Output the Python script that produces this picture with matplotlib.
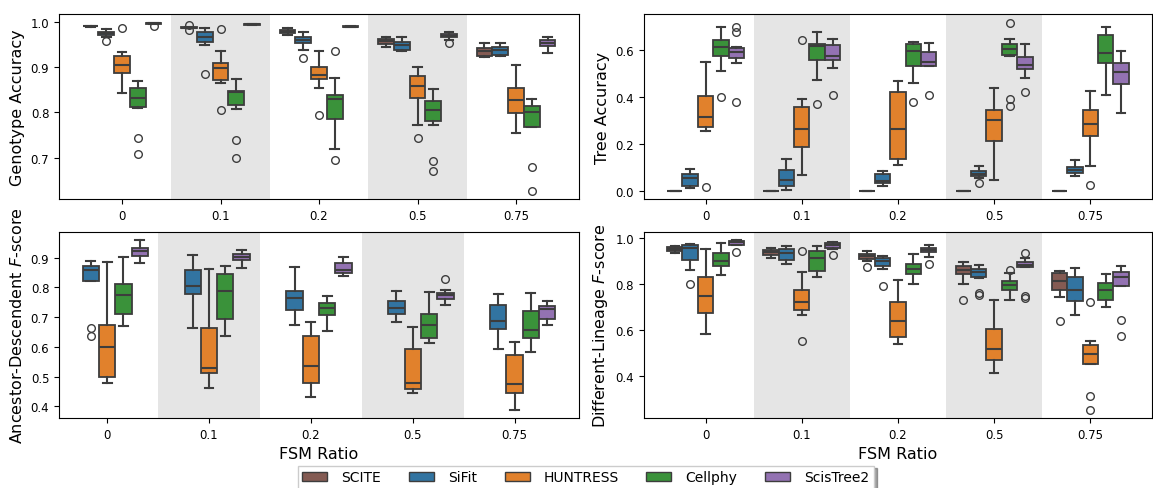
import matplotlib
matplotlib.use("Agg")
import matplotlib.pyplot as plt
from matplotlib.patches import Patch

ratios = ["0", "0.1", "0.2", "0.5", "0.75"]
methods = ["SCITE", "SiFit", "HUNTRESS", "Cellphy", "ScisTree2"]
colors = ["#845b53", "#3274a1", "#e1812c", "#3a923a", "#9372b2"]

# one tuple per FSM ratio: (whisker low, q1, median, q3, whisker high, outliers)
geno_scite = [
    (0.990, 0.991, 0.991, 0.992, 0.992, []),
    (0.986, 0.987, 0.988, 0.989, 0.990, [0.993, 0.982]),
    (0.971, 0.976, 0.979, 0.983, 0.988, []),
    (0.944, 0.952, 0.958, 0.963, 0.966, []),
    (0.922, 0.926, 0.936, 0.943, 0.953, []),
]
geno_sifit = [
    (0.968, 0.972, 0.975, 0.979, 0.985, [0.958]),
    (0.949, 0.955, 0.966, 0.977, 0.987, [0.886]),
    (0.939, 0.954, 0.960, 0.967, 0.977, [0.921]),
    (0.936, 0.939, 0.949, 0.955, 0.966, []),
    (0.925, 0.928, 0.939, 0.946, 0.953, []),
]
geno_huntress = [
    (0.843, 0.887, 0.906, 0.925, 0.933, [0.988]),
    (0.865, 0.871, 0.898, 0.910, 0.935, [0.984, 0.805]),
    (0.854, 0.875, 0.884, 0.900, 0.935, [0.794]),
    (0.773, 0.831, 0.859, 0.880, 0.900, [0.744]),
    (0.754, 0.799, 0.828, 0.855, 0.905, []),
]
geno_cellphy = [
    (0.810, 0.811, 0.832, 0.854, 0.870, [0.744, 0.707]),
    (0.808, 0.816, 0.845, 0.848, 0.873, [0.739, 0.700]),
    (0.718, 0.785, 0.829, 0.838, 0.876, [0.936, 0.694]),
    (0.773, 0.781, 0.806, 0.826, 0.852, [0.692, 0.671]),
    (0.767, 0.767, 0.802, 0.814, 0.829, [0.679, 0.627]),
]
geno_scistree = [
    (0.995, 0.996, 0.997, 0.998, 0.999, [0.992]),
    (0.994, 0.994, 0.995, 0.996, 0.996, []),
    (0.989, 0.989, 0.990, 0.991, 0.991, []),
    (0.961, 0.966, 0.970, 0.974, 0.979, [0.953]),
    (0.931, 0.947, 0.953, 0.960, 0.968, []),
]

tree_scite = [
    (0.0, 0.0, 0.0, 0.0, 0.0, []),
    (0.0, 0.0, 0.0, 0.0, 0.0, []),
    (0.0, 0.0, 0.0, 0.0, 0.0, []),
    (0.0, 0.0, 0.0, 0.0, 0.0, []),
    (0.0, 0.0, 0.0, 0.0, 0.0, []),
]
tree_sifit = [
    (0.010, 0.020, 0.054, 0.072, 0.092, []),
    (0.003, 0.021, 0.045, 0.086, 0.134, []),
    (0.020, 0.034, 0.043, 0.071, 0.083, []),
    (0.052, 0.062, 0.071, 0.082, 0.105, [0.031]),
    (0.062, 0.077, 0.086, 0.102, 0.133, []),
]
tree_huntress = [
    (0.257, 0.272, 0.313, 0.403, 0.552, [0.017]),
    (0.066, 0.188, 0.262, 0.359, 0.394, [0.644]),
    (0.109, 0.136, 0.262, 0.420, 0.471, []),
    (0.044, 0.214, 0.300, 0.345, 0.440, []),
    (0.105, 0.232, 0.283, 0.345, 0.428, [0.024]),
]
tree_cellphy = [
    (0.513, 0.574, 0.615, 0.644, 0.699, [0.401]),
    (0.475, 0.559, 0.618, 0.628, 0.678, [0.369]),
    (0.462, 0.533, 0.598, 0.628, 0.637, [0.381]),
    (0.577, 0.579, 0.607, 0.626, 0.648, [0.719, 0.391, 0.360]),
    (0.411, 0.546, 0.590, 0.664, 0.699, []),
]
tree_scistree = [
    (0.545, 0.569, 0.591, 0.611, 0.615, [0.700, 0.678, 0.380]),
    (0.525, 0.559, 0.574, 0.624, 0.648, [0.411]),
    (0.533, 0.533, 0.552, 0.594, 0.630, [0.411]),
    (0.482, 0.522, 0.537, 0.573, 0.628, [0.423]),
    (0.330, 0.455, 0.509, 0.546, 0.597, []),
]

# SCITE has no ancestor-descendent scores
ad_scite = [None, None, None, None, None]
ad_sifit = [
    (0.821, 0.822, 0.860, 0.873, 0.890, [0.665, 0.635]),
    (0.663, 0.779, 0.806, 0.860, 0.910, []),
    (0.675, 0.725, 0.765, 0.788, 0.870, []),
    (0.684, 0.710, 0.731, 0.753, 0.789, []),
    (0.593, 0.660, 0.688, 0.740, 0.778, []),
]
ad_huntress = [
    (0.478, 0.500, 0.599, 0.674, 0.885, []),
    (0.462, 0.513, 0.529, 0.664, 0.861, []),
    (0.431, 0.480, 0.535, 0.635, 0.684, []),
    (0.444, 0.457, 0.479, 0.592, 0.667, []),
    (0.389, 0.445, 0.474, 0.572, 0.617, []),
]
ad_cellphy = [
    (0.670, 0.712, 0.774, 0.810, 0.902, []),
    (0.637, 0.694, 0.788, 0.846, 0.872, []),
    (0.654, 0.707, 0.730, 0.748, 0.770, []),
    (0.613, 0.631, 0.675, 0.710, 0.785, []),
    (0.583, 0.630, 0.656, 0.720, 0.782, []),
]
ad_scistree = [
    (0.882, 0.907, 0.921, 0.934, 0.958, []),
    (0.867, 0.893, 0.903, 0.913, 0.927, []),
    (0.839, 0.848, 0.858, 0.881, 0.901, []),
    (0.742, 0.761, 0.773, 0.781, 0.792, [0.827]),
    (0.675, 0.693, 0.727, 0.737, 0.753, []),
]

dl_scite = [
    (0.935, 0.941, 0.949, 0.958, 0.964, []),
    (0.913, 0.926, 0.936, 0.946, 0.955, []),
    (0.900, 0.909, 0.919, 0.929, 0.943, [0.874]),
    (0.799, 0.841, 0.859, 0.875, 0.896, [0.728]),
    (0.743, 0.772, 0.812, 0.846, 0.854, [0.638]),
]
dl_sifit = [
    (0.861, 0.903, 0.954, 0.968, 0.974, [0.797]),
    (0.886, 0.904, 0.932, 0.952, 0.964, []),
    (0.865, 0.875, 0.900, 0.910, 0.920, [0.790]),
    (0.823, 0.828, 0.849, 0.862, 0.883, [0.762, 0.752]),
    (0.665, 0.726, 0.774, 0.830, 0.867, []),
]
dl_huntress = [
    (0.583, 0.671, 0.748, 0.829, 0.952, []),
    (0.664, 0.688, 0.722, 0.771, 0.851, [0.941, 0.552]),
    (0.539, 0.571, 0.639, 0.719, 0.816, []),
    (0.413, 0.471, 0.517, 0.603, 0.729, []),
    (0.451, 0.451, 0.497, 0.536, 0.551, [0.722, 0.314, 0.254]),
]
dl_cellphy = [
    (0.838, 0.878, 0.900, 0.932, 0.977, []),
    (0.830, 0.854, 0.910, 0.943, 0.964, []),
    (0.799, 0.841, 0.864, 0.884, 0.930, []),
    (0.729, 0.774, 0.794, 0.810, 0.846, [0.861]),
    (0.701, 0.728, 0.771, 0.803, 0.843, []),
]
dl_scistree = [
    (0.967, 0.970, 0.980, 0.986, 0.988, [0.938]),
    (0.949, 0.954, 0.970, 0.978, 0.983, [0.923]),
    (0.917, 0.936, 0.948, 0.957, 0.970, [0.886]),
    (0.871, 0.871, 0.883, 0.894, 0.913, [0.932, 0.748, 0.738]),
    (0.790, 0.790, 0.829, 0.849, 0.878, [0.643, 0.575]),
]

GRAY = "#3d3d3d"
SHADE = "#e5e5e5"
BOX_W = 0.16


def draw_panel(ax, series, ylabel, xlabel=None):
    # grey bands behind every other ratio
    for i in range(1, len(ratios), 2):
        ax.axvspan(i - 0.5, i + 0.5, color=SHADE, zorder=0, lw=0)
    for j, (boxes, col) in enumerate(zip(series, colors)):
        stats = []
        pos = []
        for i, b in enumerate(boxes):
            if b is None:
                continue
            stats.append(dict(whislo=b[0], q1=b[1], med=b[2], q3=b[3],
                              whishi=b[4], fliers=b[5]))
            pos.append(i + (j - 2) * BOX_W)
        if not stats:
            continue
        ax.bxp(stats, positions=pos, widths=BOX_W, capwidths=BOX_W * 0.55,
               patch_artist=True, manage_ticks=False,
               boxprops=dict(facecolor=col, edgecolor=GRAY, linewidth=1.3),
               whiskerprops=dict(color=GRAY, linewidth=1.5),
               capprops=dict(color=GRAY, linewidth=1.5),
               medianprops=dict(color=GRAY, linewidth=1.5),
               flierprops=dict(marker="o", markerfacecolor="none",
                               markeredgecolor=GRAY, markersize=5.5,
                               markeredgewidth=1.0))
    ax.set_xticks(range(len(ratios)))
    ax.set_xticklabels(ratios)
    ax.tick_params(labelsize=8.5)
    ax.set_ylabel(ylabel, fontsize=11.5)
    if xlabel:
        ax.set_xlabel(xlabel, fontsize=11.5)


fig = plt.figure(figsize=(11.53, 4.89), dpi=100)
ax1 = fig.add_axes([0.0512, 0.591, 0.451, 0.378])
ax2 = fig.add_axes([0.5585, 0.591, 0.4406, 0.378])
ax3 = fig.add_axes([0.0512, 0.1431, 0.451, 0.3804])
ax4 = fig.add_axes([0.5585, 0.1431, 0.4406, 0.3804])

draw_panel(ax1, [geno_scite, geno_sifit, geno_huntress, geno_cellphy, geno_scistree],
           "Genotype Accuracy")
draw_panel(ax2, [tree_scite, tree_sifit, tree_huntress, tree_cellphy, tree_scistree],
           "Tree Accuracy")
draw_panel(ax3, [ad_scite, ad_sifit, ad_huntress, ad_cellphy, ad_scistree],
           "Ancestor-Descendent $F$-score", "FSM Ratio")
draw_panel(ax4, [dl_scite, dl_sifit, dl_huntress, dl_cellphy, dl_scistree],
           "Different-Lineage $F$-score", "FSM Ratio")

handles = [Patch(facecolor=c, edgecolor=GRAY, label=m) for m, c in zip(methods, colors)]
fig.legend(handles=handles, loc="upper center", bbox_to_anchor=(0.508, 0.046),
           borderaxespad=0.0, borderpad=0.35,
           ncol=5, fontsize=10, shadow=True, handlelength=1.8,
           handletextpad=1.0, columnspacing=2.0, fancybox=False)

fig.savefig("out.png", dpi=100)
